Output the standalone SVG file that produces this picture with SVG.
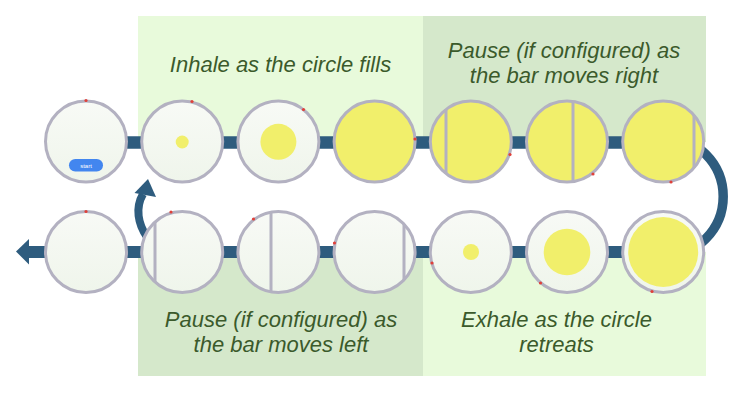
<svg xmlns="http://www.w3.org/2000/svg" width="742" height="394" viewBox="0 0 742 394">
<defs>
<linearGradient id="cf" x1="0" y1="0" x2="0" y2="1">
<stop offset="0" stop-color="#f8faf6"/>
<stop offset="1" stop-color="#eff5eb"/>
</linearGradient>
<style>
.ring{fill:url(#cf);stroke:#b3b1c1;stroke-width:3}
.full{fill:#f1ef6b;stroke:#b3b1c1;stroke-width:3}
.yel{fill:#f1ef6b}
.bar{stroke:#b3b1c1;stroke-width:3}
.dot{fill:#e0403a}
.lbl{font-family:"Liberation Sans",Arial,sans-serif;font-style:italic;font-size:22px;fill:#3b5a2b;text-anchor:middle}
.conn{fill:none;stroke:#2e5c7e}
.head{fill:#2e5c7e}
</style>
</defs>
<rect width="742" height="394" fill="#ffffff"/>
<g id="panels">
<rect x="138" y="16" width="285" height="126" fill="#e8fadb"/>
<rect x="423" y="16" width="283" height="126" fill="#d5e8cb"/>
<rect x="138" y="252" width="285" height="124" fill="#d5e8cb"/>
<rect x="423" y="252" width="283" height="124" fill="#e8fadb"/>
</g>
<g id="labels">
<text class="lbl" x="280.5" y="72">Inhale as the circle fills</text>
<text class="lbl" x="564" y="58">Pause (if configured) as</text>
<text class="lbl" x="564" y="82.5">the bar moves right</text>
<text class="lbl" x="281" y="327">Pause (if configured) as</text>
<text class="lbl" x="281" y="352">the bar moves left</text>
<text class="lbl" x="556.5" y="327">Exhale as the circle</text>
<text class="lbl" x="556.5" y="352">retreats</text>
</g>
<g id="connectors">
<line class="conn" x1="86" y1="142.5" x2="663.2" y2="142.5" stroke-width="12.5"/>
<path class="conn" d="M663.2 136.5 A60 60 0 0 1 663.2 256.5" stroke-width="9.5"/>
<line class="conn" x1="28" y1="252" x2="663.2" y2="252" stroke-width="12"/>
<polygon class="head" points="16,251.5 29,239 29,264.5"/>
<path class="conn" d="M147 237 C138 224 135 208 143 194" stroke-width="8"/>
<polygon class="head" points="148,179 134.5,193 156,197"/>
</g>
<g id="t1"><circle class="ring" cx="86" cy="141.5" r="40.5"/><circle class="dot" cx="86" cy="100.5" r="1.6"/>
<rect x="69" y="159" width="34" height="12.5" rx="6.25" fill="#4286ef"/>
<text x="86" y="167.5" font-family="Liberation Sans,Arial,sans-serif" font-size="6" fill="#ffffff" text-anchor="middle">start</text></g>
<g id="t2"><circle class="ring" cx="182.2" cy="141.5" r="40.5"/><circle class="yel" cx="182.2" cy="142" r="6.5"/><circle class="dot" cx="192" cy="101.5" r="1.6"/></g>
<g id="t3"><circle class="ring" cx="278.4" cy="141.5" r="40.5"/><circle class="yel" cx="278.4" cy="141.8" r="18"/><circle class="dot" cx="303.5" cy="109.5" r="1.6"/></g>
<g id="t4"><circle class="full" cx="374.6" cy="141.5" r="40.5"/><circle class="dot" cx="415" cy="139" r="1.6"/></g>
<g id="t5"><circle class="full" cx="470.8" cy="141.5" r="40.5"/><line class="bar" x1="446" y1="109" x2="446" y2="174"/><circle class="dot" cx="510" cy="154.5" r="1.6"/></g>
<g id="t6"><circle class="full" cx="567" cy="141.5" r="40.5"/><line class="bar" x1="573" y1="101.5" x2="573" y2="181.5"/><circle class="dot" cx="593" cy="174" r="1.6"/></g>
<g id="t7"><circle class="full" cx="663.2" cy="141.5" r="40.5"/><line class="bar" x1="694" y1="115" x2="694" y2="168"/><circle class="dot" cx="671" cy="182" r="1.6"/></g>
<g id="b7"><circle class="ring" cx="663.2" cy="252" r="40.5"/><circle class="yel" cx="663.2" cy="252" r="35"/><circle class="dot" cx="652" cy="291.5" r="1.6"/></g>
<g id="b6"><circle class="ring" cx="567" cy="252" r="40.5"/><circle class="yel" cx="567" cy="252" r="23.3"/><circle class="dot" cx="540.5" cy="283" r="1.6"/></g>
<g id="b5"><circle class="ring" cx="470.8" cy="252" r="40.5"/><circle class="yel" cx="471" cy="252" r="8"/><circle class="dot" cx="432" cy="263" r="1.6"/></g>
<g id="b4"><circle class="ring" cx="374.6" cy="252" r="40.5"/><line class="bar" x1="404" y1="224" x2="404" y2="280"/><circle class="dot" cx="334.5" cy="243" r="1.6"/></g>
<g id="b3"><circle class="ring" cx="278.4" cy="252" r="40.5"/><line class="bar" x1="271" y1="212" x2="271" y2="292"/><circle class="dot" cx="253.5" cy="219" r="1.6"/></g>
<g id="b2"><circle class="ring" cx="182.2" cy="252" r="40.5"/><line class="bar" x1="155" y1="222" x2="155" y2="282"/><circle class="dot" cx="171" cy="212" r="1.6"/></g>
<g id="b1"><circle class="ring" cx="86" cy="252" r="40.5"/><circle class="dot" cx="86" cy="211.5" r="1.6"/></g>
</svg>
